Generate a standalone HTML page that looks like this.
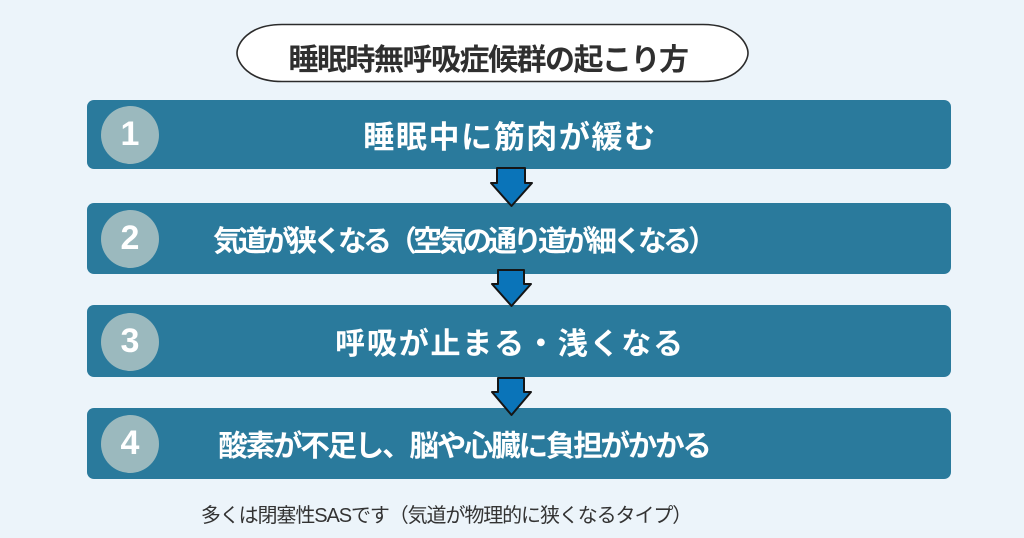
<!DOCTYPE html>
<html>
<head>
<meta charset="utf-8">
<style>
  html,body{margin:0;padding:0;}
  body{width:1024px;height:538px;background:#ecf4fa;position:relative;overflow:hidden;
       font-family:"Liberation Sans","Noto Sans CJK JP",sans-serif;}
  .box{position:absolute;left:87px;width:864px;background:#2a7a9c;border-radius:7px;}
  .circ{position:absolute;left:101px;width:58px;height:58px;border-radius:50%;background:#9bb9be;
        color:#fff;font-family:"Liberation Sans",sans-serif;font-weight:bold;font-size:34px;
        display:flex;align-items:center;justify-content:center;}
  .txt{position:absolute;white-space:nowrap;color:#fff;font-weight:bold;
       font-family:"Noto Sans CJK JP","Liberation Sans",sans-serif;
       display:flex;align-items:center;justify-content:center;width:800px;}
  svg{position:absolute;left:0;top:0;}
</style>
</head>
<body>
<svg width="1024" height="538" viewBox="0 0 1024 538">
  <path d="M282,24.5 L703,24.5 C737,24.5 748,44 748,53 C748,62 737,81.5 703,81.5 L282,81.5 C248,81.5 237,62 237,53 C237,44 248,24.5 282,24.5 Z"
        fill="#ffffff" stroke="#2b2b2b" stroke-width="1.6"/>
</svg>
<div style="position:absolute;left:88px;top:34px;width:800px;height:46px;display:flex;align-items:center;justify-content:center;font-family:'Noto Sans CJK JP',sans-serif;font-weight:bold;font-size:30px;letter-spacing:-1.5px;color:#2f2f2f;white-space:nowrap;">睡眠時無呼吸症候群の起こり方</div>

<div class="box" style="top:100px;height:69px;"></div>
<div class="box" style="top:203px;height:71px;"></div>
<div class="box" style="top:305px;height:72px;"></div>
<div class="box" style="top:408px;height:71px;"></div>

<div class="circ" style="top:105.5px;">1</div>
<div class="circ" style="top:209.5px;">2</div>
<div class="circ" style="top:312.5px;">3</div>
<div class="circ" style="top:414.5px;">4</div>

<div class="txt" style="left:110px;top:100px;height:69px;font-size:31px;letter-spacing:1.6px;">睡眠中に筋肉が緩む</div>
<div class="txt" style="left:63px;top:203px;height:71px;font-size:29px;letter-spacing:-4px;">気道が狭くなる（空気の通り道が細くなる）</div>
<div class="txt" style="left:110px;top:305px;height:72px;font-size:30px;letter-spacing:1.8px;">呼吸が止まる・浅くなる</div>
<div class="txt" style="left:64px;top:408px;height:71px;font-size:29.5px;letter-spacing:-2.2px;">酸素が不足し、脳や心臓に負担がかかる</div>

<svg width="1024" height="538" viewBox="0 0 1024 538">
  <g fill="#0a74b9" stroke="#151515" stroke-width="2" stroke-linejoin="round">
    <polygon points="497,168 525,168 525,183 532,183 511.5,206 491,183 497,183"/>
    <polygon points="498,270 524,270 524,284 531,284 511.5,306 492,284 498,284"/>
    <polygon points="498,378 524,378 524,392 531,392 511.5,415 492,392 498,392"/>
  </g>
</svg>

<div style="position:absolute;left:46px;top:499px;width:800px;height:28px;display:flex;align-items:center;justify-content:center;font-family:'Liberation Sans','Noto Sans CJK JP',sans-serif;font-size:20px;letter-spacing:-1.1px;color:#333;white-space:nowrap;">多くは閉塞性SASです（気道が物理的に狭くなるタイプ）</div>
</body>
</html>
